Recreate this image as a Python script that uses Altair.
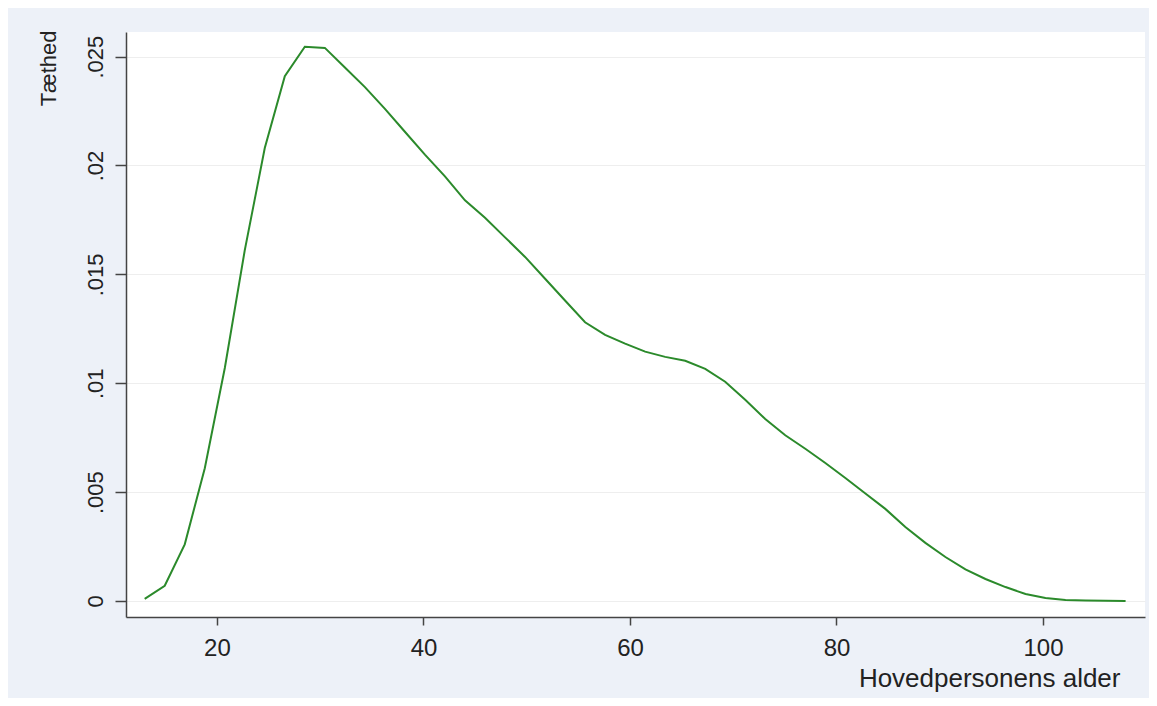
import altair as alt
import pandas as pd

# Age grid (x) and estimated kernel density (y)
ages = [13.0, 14.94, 16.88, 18.82, 20.76, 22.69, 24.63, 26.57, 28.51, 30.45,
        32.39, 34.33, 36.27, 38.20, 40.14, 42.08, 44.02, 45.96, 47.90, 49.84,
        51.78, 53.71, 55.65, 57.59, 59.53, 61.47, 63.41, 65.35, 67.29, 69.22,
        71.16, 73.10, 75.04, 76.98, 78.92, 80.86, 82.80, 84.73, 86.67, 88.61,
        90.55, 92.49, 94.43, 96.37, 98.31, 100.24, 102.18, 104.12, 106.06, 108.0]
density = [0.0001, 0.0007, 0.0026, 0.0061, 0.0107, 0.0161, 0.0208, 0.0241, 0.02545, 0.0254,
           0.0245, 0.0236, 0.0226, 0.02155, 0.0205, 0.0195, 0.0184, 0.0176, 0.0167, 0.0158,
           0.0148, 0.0138, 0.0128, 0.01222, 0.01182, 0.01145, 0.01121, 0.01103, 0.01066, 0.01007,
           0.00924, 0.00836, 0.00761, 0.00699, 0.00634, 0.00565, 0.00494, 0.00423, 0.0034, 0.00267,
           0.00202, 0.00145, 0.00101, 0.00064, 0.00032, 0.00014, 0.00005, 0.00002, 0.00001, 0.0]

x_ticks = [20, 40, 60, 80, 100]
y_ticks = [0, 0.005, 0.01, 0.015, 0.02, 0.025]
y_tick_labels = ["0", ".005", ".01", ".015", ".02", ".025"]

x_title = "Hovedpersonens alder"
y_title = "Tæthed"

df = pd.DataFrame({"alder": ages, "taethed": density})

label_expr = " : ".join(
    [f"abs(datum.value - {v}) < 1e-9 ? '{l}'" for v, l in zip(y_ticks, y_tick_labels)]
) + " : ''"

FONT = "Liberation Sans"

chart = alt.Chart(df).mark_line(color="#2b8a2b", strokeWidth=2).encode(
    x=alt.X(
        "alder:Q",
        scale=alt.Scale(domain=[11.19, 109.88], nice=False, zero=False),
        axis=alt.Axis(
            values=x_ticks,
            grid=False,
            title=x_title,
            titleFont=FONT,
            titleFontSize=26,
            titleFontWeight="normal",
            titleColor="#222222",
            titleAnchor="end",
            titleAlign="right",
            titleBaseline="alphabetic",
            titleX=994,
            titleY=69,
            labelFont=FONT,
            labelFontSize=24,
            labelColor="#222222",
            labelPadding=11,
            tickSize=8,
            tickColor="#444444",
            tickWidth=1.5,
            domainColor="#444444",
            domainWidth=1.5,
        ),
    ),
    y=alt.Y(
        "taethed:Q",
        scale=alt.Scale(domain=[-0.000735, 0.02613], nice=False, zero=False),
        axis=alt.Axis(
            values=y_ticks,
            labelExpr=label_expr,
            grid=True,
            gridColor="#eeeeee",
            gridWidth=1.2,
            title=y_title,
            titleFont=FONT,
            titleFontSize=22,
            titleFontWeight="normal",
            titleColor="#222222",
            titleAngle=270,
            titleAnchor="end",
            titleAlign="right",
            titleBaseline="alphabetic",
            titleX=-71,
            titleY=-2,
            labelFont=FONT,
            labelFontSize=22,
            labelColor="#222222",
            labelAngle=270,
            labelAlign="center",
            labelBaseline="alphabetic",
            labelPadding=13,
            tickSize=11,
            tickColor="#444444",
            tickWidth=1.5,
            domainColor="#444444",
            domainWidth=1.5,
        ),
    ),
).properties(
    width=1019,
    height=585,
    autosize=alt.AutoSizeParams(type="none"),
    padding={"left": 118, "top": 24, "right": 4, "bottom": 81},
    background="#edf1f8",
).configure_view(
    fill="white",
    stroke=None,
)

chart.save("out.html", embed_options={"renderer": "svg", "actions": False})
